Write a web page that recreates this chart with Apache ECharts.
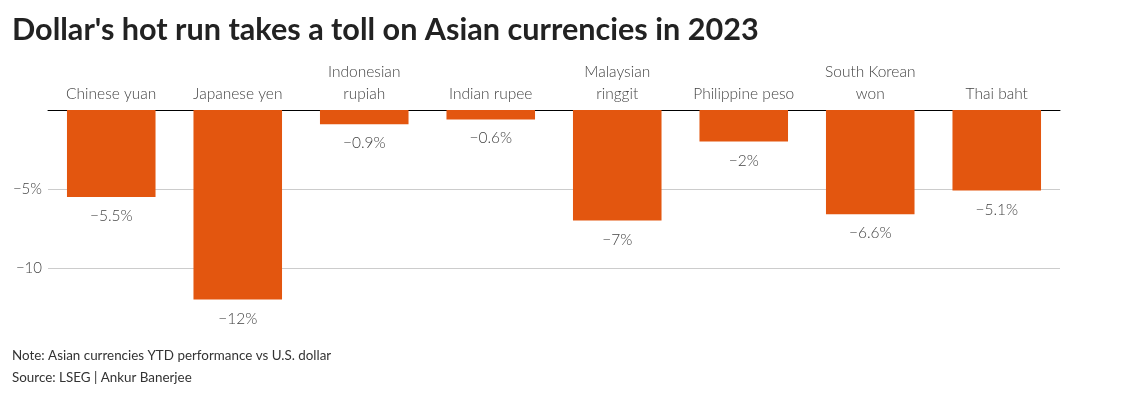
<!DOCTYPE html>
<html><head><meta charset="utf-8">
<script src="https://cdn.jsdelivr.net/npm/echarts@6/dist/echarts.min.js"></script>
<style>html,body{margin:0;padding:0;background:#fff}#c{width:1134px;height:395px}</style>
</head><body><div id="c"></div>
<script>
var categories = ['Chinese yuan','Japanese yen','Indonesian\nrupiah','Indian rupee','Malaysian\nringgit','Philippine peso','South Korean\nwon','Thai baht'];
var values = [-5.5, -12, -0.9, -0.6, -7, -2, -6.6, -5.1];
var yTickLabels = {'-5':'\u22125%','-10':'\u221210'};
var titleText = "Dollar's hot run takes a toll on Asian currencies in 2023";
var noteText = 'Note: Asian currencies YTD performance vs U.S. dollar';
var sourceText = 'Source: LSEG | Ankur Banerjee';

var chart = echarts.init(document.getElementById('c'), null, {renderer:'canvas'});
var font = 'Lato';
chart.setOption({
  animation:false,
  title:[
    {text:titleText,left:12,top:15,padding:0,textStyle:{fontFamily:font,fontWeight:'bold',fontSize:30.6,color:'#222'}},
    {text:noteText,left:12,top:349,padding:0,textStyle:{fontFamily:font,fontWeight:'normal',fontSize:13.4,color:'#333'}},
    {text:sourceText,left:12,top:371,padding:0,textStyle:{fontFamily:font,fontWeight:'normal',fontSize:13.4,color:'#333'}}
  ],
  grid:{left:48,right:74,top:110,bottom:48},
  xAxis:{type:'category',data:categories,position:'top',
    axisLine:{show:true,lineStyle:{color:'#000',width:1}},
    axisTick:{show:false},
    axisLabel:{margin:5,fontFamily:font,fontWeight:300,fontSize:15.5,color:'#444',lineHeight:22,interval:0}
  },
  yAxis:{type:'value',min:-15,max:0,interval:5,
    axisLine:{show:false},axisTick:{show:false},
    splitLine:{show:true,lineStyle:{color:['transparent','#cccccc','#cccccc','transparent'],width:1}},
    axisLabel:{margin:6,fontFamily:font,fontWeight:300,fontSize:15,color:'#444',
      formatter:function(v){return yTickLabels[String(v)]||'';}}
  },
  series:[{type:'bar',data:values,barWidth:'70%',itemStyle:{color:'#e3560f'},
    label:{show:true,position:'bottom',distance:11,fontFamily:font,fontWeight:300,fontSize:15.5,color:'#444',
      formatter:function(p){return '\u2212'+Math.abs(p.value)+'%';}}
  }]
});
</script></body></html>
